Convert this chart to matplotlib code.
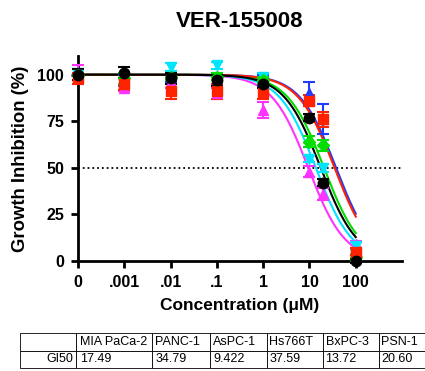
import numpy as np
import matplotlib
matplotlib.use('Agg')
import matplotlib.pyplot as plt

plt.rcParams['font.family'] = ['Liberation Sans', 'DejaVu Sans']

# concentrations (uM); 0 is drawn at 1e-4 on the log axis
conc = [1e-4, 0.001, 0.01, 0.1, 1, 10, 20, 100]
tick_pos = [1e-4, 0.001, 0.01, 0.1, 1, 10, 100]
tick_lab = ['0', '.001', '.01', '.1', '1', '10', '100']

cell_lines = ['MIA PaCa-2', 'PANC-1', 'AsPC-1', 'Hs766T', 'BxPC-3', 'PSN-1']
gi50 = [17.49, 34.79, 9.422, 37.59, 13.72, 20.60]
gi50_txt = ['17.49', '34.79', '9.422', '37.59', '13.72', '20.60']

mia = [100, 101, 98, 97, 95, 77, 42, 0]
mia_err = [3, 3, 3, 3, 2, 2, 2, 1]
panc = [98, 95, 91, 91, 90, 86, 76, 5]
panc_err = [3, 3, 4, 4, 3, 3, 4, 2]
aspc = [100, 93, 96, 90, 81, 48, 36, 9]
aspc_err = [5, 2, 3, 3, 4.5, 3, 3, 2]
hs766 = [100, 97, 99, 98, 97, 90, 76, 5]
hs766_err = [3, 3, 3, 3, 3, 6, 8, 2]
bxpc = [100, 98, 104, 105, 99, 55, 50, 8]
bxpc_err = [3, 3, 2, 2, 2, 2, 2, 2]
psn = [100, 98, 99, 99, 97, 64, 62, 2]
psn_err = [3, 3, 2, 2, 2, 3, 3, 2]

hill = 1.1

series = [
    (hs766, hs766_err, gi50[3], '#1f3bff', '^'),
    (aspc, aspc_err, gi50[2], '#ff33ff', '^'),
    (bxpc, bxpc_err, gi50[4], '#00e5ff', 'v'),
    (psn, psn_err, gi50[5], '#00dd00', 'D'),
    (panc, panc_err, gi50[1], '#ff2200', 's'),
    (mia, mia_err, gi50[0], 'black', 'o'),
]

fig = plt.figure(figsize=(4.25, 3.71), dpi=100)
ax = fig.add_axes([0.1835, 0.2965, 0.7625, 0.5525])

xs = np.logspace(-4, 2, 300)
for vals, err, ic, col, mk in series:
    ax.plot(xs, 100 / (1 + (xs / ic) ** hill), color=col, lw=1.5, zorder=2)
for vals, err, ic, col, mk in series:
    ms = 6.5 if mk == 'D' else 7.5
    ax.errorbar(conc, vals, yerr=err, fmt=mk, color=col, ms=ms, capsize=4.5,
                elinewidth=1.5, capthick=1.5, clip_on=False, zorder=3)

ax.plot([1e-4, 1000], [50, 50], ls=':', color='black', lw=1.3, zorder=1)

ax.set_xscale('log')
ax.set_xlim(1e-4, 1000)
ax.set_ylim(0, 110)
ax.set_xticks(tick_pos)
ax.set_xticklabels(tick_lab)
ax.xaxis.set_minor_locator(matplotlib.ticker.NullLocator())
ax.set_yticks([0, 25, 50, 75, 100])
for s in ['top', 'right']:
    ax.spines[s].set_visible(False)
for s in ['left', 'bottom']:
    ax.spines[s].set_linewidth(2)
ax.tick_params(width=2, length=5, labelsize=11.5, pad=5)
for lab in ax.get_xticklabels() + ax.get_yticklabels():
    lab.set_fontweight('bold')
ax.set_xlabel('Concentration (\u03bcM)', fontsize=12.5, fontweight='bold', labelpad=6)
ax.set_ylabel('Growth Inhibition (%)', fontsize=13.3, fontweight='bold', labelpad=6)
ax.set_title('VER-155008', fontsize=16, fontweight='bold', pad=21)

tax = fig.add_axes([0.047, 0.008, 0.953, 0.094])
tax.axis('off')
tbl = tax.table(cellText=[[''] + cell_lines, ['GI50'] + gi50_txt],
                cellLoc='left', bbox=[0, 0, 1, 1],
                colWidths=[56, 76, 58, 56, 56, 56, 46])
tbl.auto_set_font_size(False)
for (r, c), cell in tbl.get_celld().items():
    cell.set_fontsize(9)
    cell.set_linewidth(0.6)
    cell.PAD = 0.05
    if c == 0:
        cell._loc = 'right'
        cell.get_text().set_ha('right')

fig.savefig('out.png', dpi=100)
